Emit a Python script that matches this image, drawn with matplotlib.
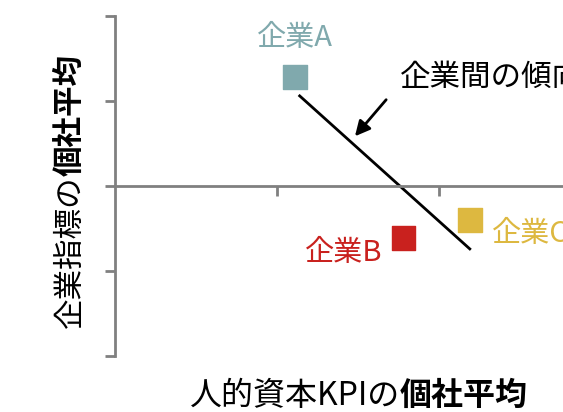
import matplotlib.pyplot as plt

plt.rcParams['font.family'] = ['Noto Sans CJK JP', 'DejaVu Sans']

# 各社の位置 (x: 人的資本KPI, y: 企業指標)
companies = ['企業A', '企業B', '企業C']
kpi = [1.11, 1.78, 2.19]
metric = [1.28, -0.61, -0.40]
colors = ['#80A9AD', '#C9211E', '#DDB840']

# 傾向線
trend_x = [1.14, 2.19]
trend_y = [1.06, -0.74]

x_ticks = [1, 2]
y_ticks = [-2, -1, 0, 1, 2]

fig = plt.figure(figsize=(5.63, 4.12), dpi=100)
ax = fig.add_axes([115 / 563, 56 / 412, 448 / 563, 340 / 412])
ax.set_xlim(0, 448 / 162)
ax.set_ylim(-2, 2)

gray = '#808080'
for s in ['top', 'right']:
    ax.spines[s].set_visible(False)
ax.spines['left'].set_color(gray)
ax.spines['left'].set_linewidth(2)
ax.spines['bottom'].set_position(('data', 0))
ax.spines['bottom'].set_color(gray)
ax.spines['bottom'].set_linewidth(2)
ax.set_xticks(x_ticks)
ax.set_yticks(y_ticks)
ax.set_xticklabels([])
ax.set_yticklabels([])
ax.tick_params(axis='both', direction='out', length=7, width=2, color=gray)

ax.scatter(kpi, metric, marker='s', s=17 ** 2, c=colors, zorder=3, clip_on=False)
ax.plot(trend_x, trend_y, color='black', lw=2, zorder=2)

# 社名ラベル
ax.annotate(companies[0], (kpi[0], metric[0]), xytext=(0, 28), textcoords='offset points',
            ha='center', va='center', fontsize=21, color=colors[0])
ax.annotate(companies[1], (kpi[1], metric[1]), xytext=(-15, -11), textcoords='offset points',
            ha='right', va='center', fontsize=21, color=colors[1])
ax.annotate(companies[2], (kpi[2], metric[2]), xytext=(16, -10), textcoords='offset points',
            ha='left', va='center', fontsize=21, color=colors[2], annotation_clip=False)

ax.annotate('', xy=(1.47, 0.56), xytext=(1.685, 1.04),
            arrowprops=dict(arrowstyle='-|>,head_length=0.9,head_width=0.45', color='black', lw=2))
ax.text(1.76, 1.28, '企業間の傾向', ha='left', va='center', fontsize=22, color='black', clip_on=False)

# 軸ラベル (一部太字)
fig.text(400 / 563, 1 - 396 / 412, '人的資本KPIの', ha='right', va='center', fontsize=23)
fig.text(400 / 563, 1 - 396 / 412, '個社平均', ha='left', va='center', fontsize=23, fontweight='bold')
fig.text(70 / 563, 1 - 176 / 412, '企業指標の', ha='center', va='top', rotation=90, fontsize=22)
fig.text(70 / 563, 1 - 176 / 412, '個社平均', ha='center', va='bottom', rotation=90, fontsize=22,
         fontweight='bold')

fig.savefig('out.png', dpi=100)
